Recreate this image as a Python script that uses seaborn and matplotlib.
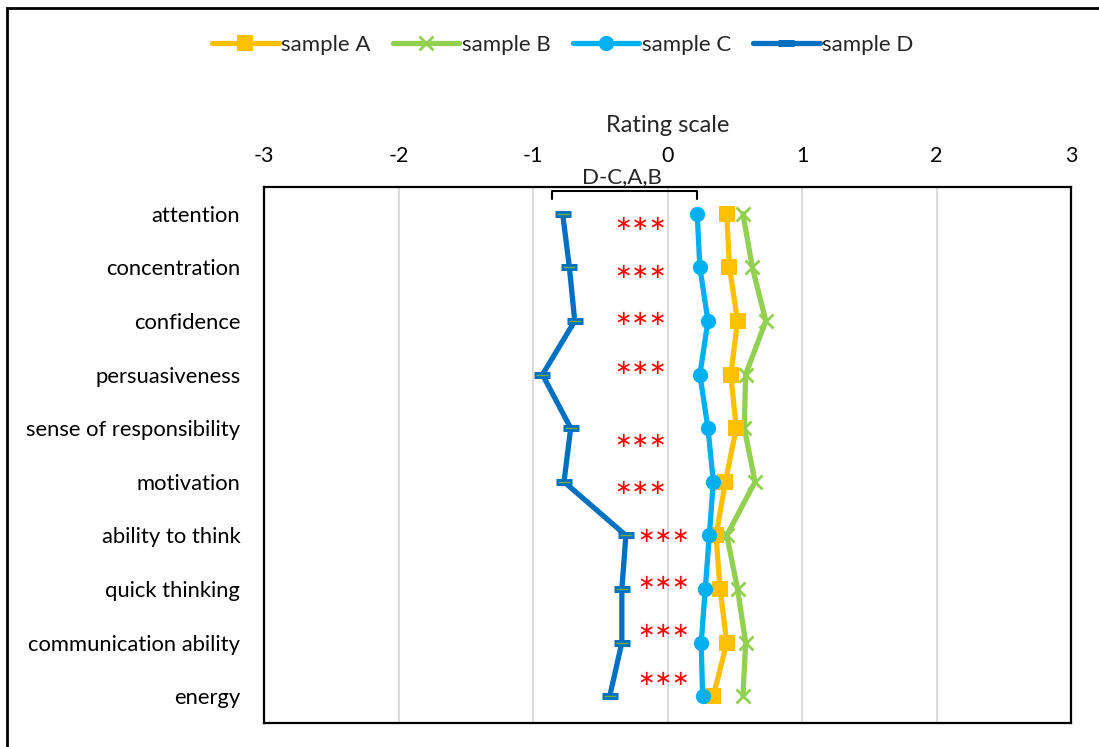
import numpy as np
import pandas as pd
import matplotlib
matplotlib.use("Agg")
import matplotlib.pyplot as plt
import seaborn as sns

traits = ["attention", "concentration", "confidence", "persuasiveness",
          "sense of responsibility", "motivation", "ability to think",
          "quick thinking", "communication ability", "energy"]
sample_a = [0.44, 0.46, 0.52, 0.47, 0.51, 0.43, 0.36, 0.39, 0.44, 0.34]
sample_b = [0.56, 0.63, 0.73, 0.58, 0.57, 0.65, 0.44, 0.52, 0.58, 0.56]
sample_c = [0.22, 0.24, 0.30, 0.24, 0.30, 0.34, 0.31, 0.28, 0.25, 0.26]
sample_d = [-0.78, -0.73, -0.69, -0.93, -0.72, -0.77, -0.31, -0.34, -0.34, -0.43]
x_ticks = [-3, -2, -1, 0, 1, 2, 3]

# significance stars (annotation positions)
star_x = [-0.20] * 6 + [-0.03] * 4
star_y = [0.19, 1.08, 1.97, 2.87, 4.23, 5.12, 6.01, 6.89, 7.78, 8.68]

sns.set_theme(style="white")
plt.rcParams["font.family"] = ["Lato", "DejaVu Sans"]

pos = np.arange(len(traits))
df = pd.DataFrame({"pos": pos, "A": sample_a, "B": sample_b,
                   "C": sample_c, "D": sample_d})

fig = plt.figure(figsize=(10.99, 7.47), dpi=100)
ax = fig.add_axes([0.2402, 0.0321, 0.7345, 0.7176])

lw = 3.8
sns.lineplot(data=df, x="D", y="pos", orient="y", sort=False, color="#0070C0",
             lw=lw, marker="_", markersize=11, markeredgewidth=5,
             markeredgecolor="#0070C0", label="sample D", ax=ax, zorder=3)
ax.plot(df["D"], df["pos"], ls="none", marker="_", markersize=8,
        markeredgewidth=1, color="#70AD47", zorder=4)
sns.lineplot(data=df, x="C", y="pos", orient="y", sort=False, color="#00B0F0",
             lw=lw, marker="o", markersize=11, markeredgewidth=0,
             label="sample C", ax=ax, zorder=5)
sns.lineplot(data=df, x="A", y="pos", orient="y", sort=False, color="#FFC000",
             lw=lw, marker="s", markersize=11, markeredgewidth=0,
             label="sample A", ax=ax, zorder=4)
sns.lineplot(data=df, x="B", y="pos", orient="y", sort=False, color="#92D050",
             lw=lw, marker="x", markersize=10, markeredgewidth=2,
             markeredgecolor="#92D050", label="sample B", ax=ax, zorder=3)

for sx, sy in zip(star_x, star_y):
    ax.text(sx, sy, "\u2217\u2217\u2217", color="#FF0000", fontsize=15,
            ha="center", va="center", family="DejaVu Sans", zorder=6)

ax.set_xlim(-3, 3)
ax.set_ylim(len(traits) - 0.5, -0.5)
ax.set_xticks(x_ticks)
ax.set_xticklabels([str(t) for t in x_ticks])
ax.set_yticks(pos)
ax.set_yticklabels(traits)
ax.xaxis.tick_top()
ax.xaxis.set_label_position("top")
ax.set_xlabel("Rating scale", fontsize=17, labelpad=10)
ax.set_ylabel("")
ax.tick_params(axis="x", length=0, pad=15, labelsize=15.5, colors="black")
ax.tick_params(axis="y", length=0, pad=17, labelsize=15.8, colors="black")
ax.grid(axis="x", color="#D9D9D9", lw=1.3)
ax.grid(axis="y", visible=False)
for s in ax.spines.values():
    s.set_color("black")
    s.set_linewidth(1.6)

# bracket D - C,A,B
bx0, bx1 = -0.86, 0.22
ax.plot([bx0, bx0, bx1, bx1], [-0.27, -0.43, -0.43, -0.27], color="black",
        lw=1.5, clip_on=False, zorder=7)
ax.text((bx0 + bx1) / 2 - 0.02, -0.575, "D-C,A,B", fontsize=16, ha="center",
        va="baseline", clip_on=False)

handles, labels = ax.get_legend_handles_labels()
order = [labels.index(k) for k in ["sample A", "sample B", "sample C", "sample D"]]
ax.legend([handles[i] for i in order], [labels[i] for i in order],
          loc="center", bbox_to_anchor=(0.512, 0.94), bbox_transform=fig.transFigure,
          ncol=4, frameon=False, fontsize=16, handlelength=3.0,
          handletextpad=0.1, columnspacing=1.0)

fig.patches.append(plt.Rectangle((7 / 1099, -0.1), 1.2, 1 - 8 / 747 + 0.1,
                                 transform=fig.transFigure, fill=False,
                                 ec="black", lw=2))

fig.savefig("out.png", dpi=100)
